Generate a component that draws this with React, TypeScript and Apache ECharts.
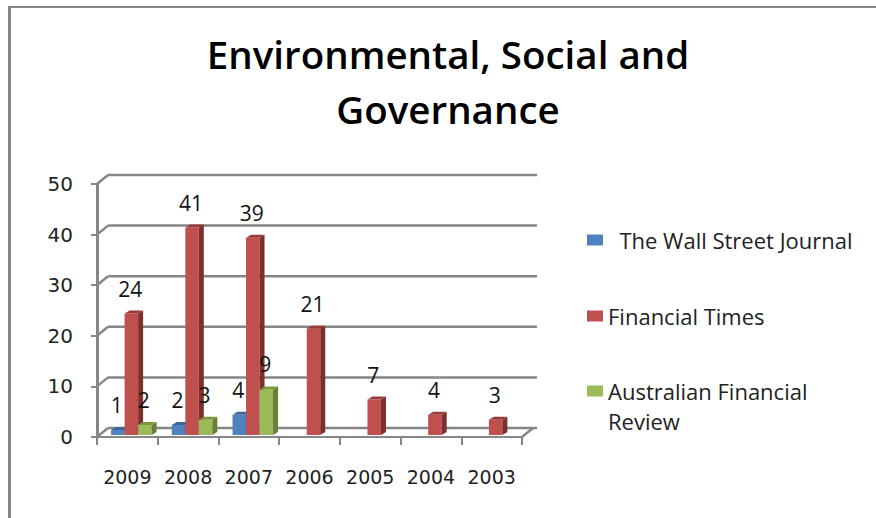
import React, { useEffect, useRef } from "react";
import * as echarts from "echarts";

const titleText = "Environmental, Social and\nGovernance";
const categories = ["2009", "2008", "2007", "2006", "2005", "2004", "2003"];
const wsj = [1, 2, 4, null, null, null, null];
const ft = [24, 41, 39, 21, 7, 4, 3];
const afr = [2, 3, 9, null, null, null, null];
const yTicks = [0, 10, 20, 30, 40, 50];
const wsjName = "  The Wall Street Journal";
const ftName = "Financial Times";
const afrName = "Australian Financial Review";

const AXIS = "#868686";
const FONT = "'Open Sans', sans-serif";
const BAR_W = 13.5;
const BAR_SHIFT = 4;
const DX = 11;
const DY = 9;

function barSeries(name: string, values: (number | null)[], slot: number, front: string, side: string, top: string) {
  return {
    name,
    type: "custom",
    coordinateSystem: "cartesian2d",
    itemStyle: { color: front },
    z: 5 + slot,
    data: values.map((v, i) => [i, v]),
    encode: { x: 0, y: 1 },
    renderItem: (_p: any, api: any) => {
      const v = api.value(1);
      if (v == null || isNaN(v)) return undefined;
      const c = api.coord([api.value(0), v]);
      const base = api.coord([api.value(0), 0]);
      const x = c[0] + BAR_SHIFT + (slot - 1) * BAR_W - BAR_W / 2;
      const yTop = c[1] - 2;
      const yBot = base[1] - 2;
      const sx = 5;
      const sy = 3;
      return {
        type: "group",
        children: [
          { type: "rect", shape: { x, y: yTop, width: BAR_W, height: yBot - yTop }, style: { fill: front } },
          {
            type: "polygon",
            shape: { points: [[x + BAR_W, yTop], [x + BAR_W + sx, yTop - sy], [x + BAR_W + sx, yBot - sy], [x + BAR_W, yBot]] },
            style: { fill: side },
          },
          {
            type: "polygon",
            shape: { points: [[x, yTop], [x + sx, yTop - sy], [x + BAR_W + sx, yTop - sy], [x + BAR_W, yTop]] },
            style: { fill: top },
          },
          {
            type: "text",
            z2: 50,
            style: {
              text: String(v),
              x: x + BAR_W / 2 - 1,
              y: yTop - 25,
              align: "center",
              verticalAlign: "middle",
              fill: "#111",
              font: `21px ${FONT}`,
            },
          },
        ],
      };
    },
  };
}

export default function App() {
  const ref = useRef<HTMLDivElement>(null);
  useEffect(() => {
    const chart = echarts.init(ref.current!, undefined, { renderer: "svg", width: 876, height: 518 });
    const legendBase = {
      orient: "vertical",
      left: 582,
      icon: "rect",
      itemWidth: 16,
      itemHeight: 11,
      itemGap: 0,
      selectedMode: false,
      textStyle: { fontFamily: FONT, fontSize: 22, color: "#222", lineHeight: 30 },
    };
    chart.setOption({
      animation: false,
      backgroundColor: "#fff",
      title: {
        text: titleText,
        left: 443,
        textAlign: "center",
        top: 21,
        textStyle: { fontFamily: FONT, fontSize: 38.5, fontWeight: 600, color: "#000", lineHeight: 55 },
      },
      legend: [
        { ...legendBase, top: 220, data: [wsjName] },
        { ...legendBase, top: 296, data: [ftName] },
        {
          ...legendBase,
          top: 341,
          data: [afrName],
          formatter: () => "\nAustralian Financial\nReview",
        },
      ],
      grid: { left: 97, top: 184, width: 425, height: 253 },
      xAxis: {
        type: "category",
        data: categories,
        axisLine: { lineStyle: { color: AXIS, width: 2 } },
        axisTick: { show: true, length: 8, lineStyle: { color: AXIS, width: 2 } },
        axisLabel: { interval: 0, margin: 30, fontFamily: "'DejaVu Sans', sans-serif", fontSize: 19, color: "#222" },
      },
      yAxis: {
        type: "value",
        min: 0,
        max: 50,
        interval: 10,
        axisLine: { show: true, lineStyle: { color: AXIS, width: 3 } },
        axisTick: { show: true, length: 6, lineStyle: { color: AXIS, width: 2 } },
        axisLabel: { margin: 24, fontFamily: "'DejaVu Sans', sans-serif", fontSize: 20, color: "#222" },
        splitLine: { show: false },
      },
      graphic: [
        { type: "rect", shape: { x: 8, y: 6, width: 868, height: 2 }, style: { fill: AXIS } },
        { type: "rect", shape: { x: 8, y: 6, width: 3, height: 512 }, style: { fill: AXIS } },
      ],
      series: [
        {
          type: "custom",
          coordinateSystem: "cartesian2d",
          silent: true,
          z: 1,
          data: yTicks.map((v) => [0, v]),
          encode: { x: 0, y: 1 },
          renderItem: (p: any, api: any) => {
            const v = api.value(1);
            const y = api.coord([0, v])[1];
            const { x, width } = p.coordSys;
            const style = { stroke: AXIS, lineWidth: 2.5, fill: "none" };
            const children: any[] = [
              { type: "line", shape: { x1: x, y1: y, x2: x + DX, y2: y - DY }, style },
              { type: "line", shape: { x1: x + DX, y1: y - DY, x2: x + width + DX + 4, y2: y - DY }, style },
            ];
            if (v === 0) {
              children.push({ type: "line", shape: { x1: x + width, y1: y, x2: x + width + DX, y2: y - DY }, style });
            }
            return { type: "group", children };
          },
        },
        barSeries(wsjName, wsj, 0, "#4F81BD", "#3A5F8C", "#3B659A"),
        barSeries(ftName, ft, 1, "#C0504D", "#7E2F2D", "#973A38"),
        barSeries(afrName, afr, 2, "#9BBB59", "#68803A", "#7B9A3F"),
      ],
    });
    return () => chart.dispose();
  }, []);
  return <div ref={ref} style={{ position: "absolute", left: 0, top: 0, width: 876, height: 518 }} />;
}
